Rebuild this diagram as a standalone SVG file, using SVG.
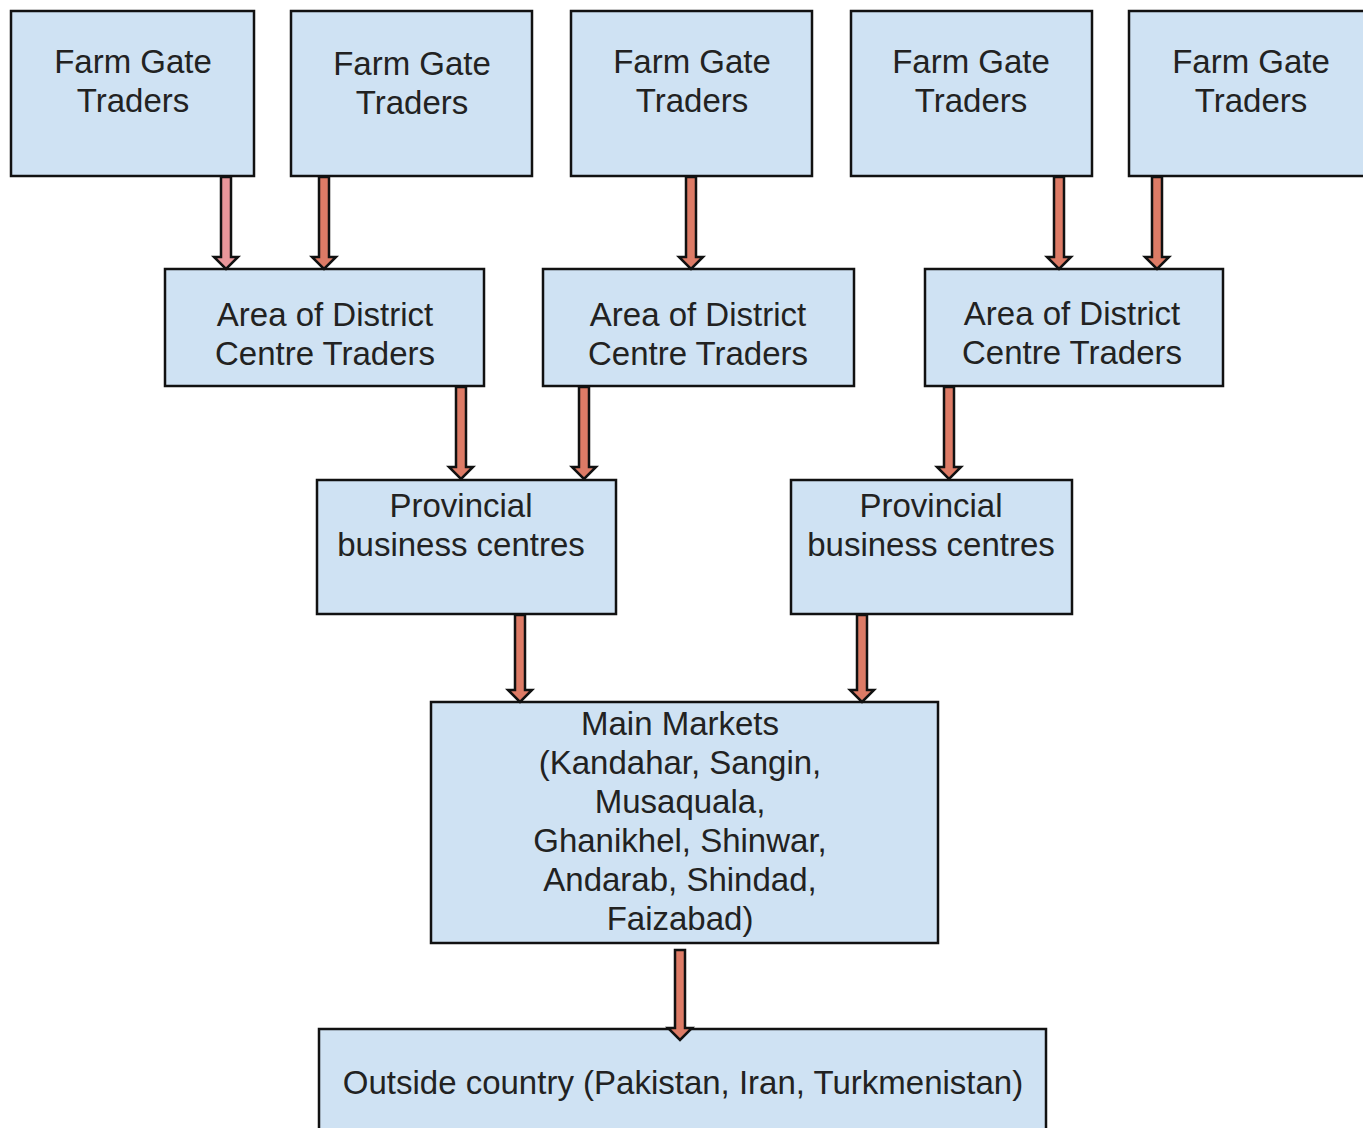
<svg xmlns="http://www.w3.org/2000/svg" width="1363" height="1128" viewBox="0 0 1363 1128">
<style>
.box{fill:#cfe2f3;stroke:#111;stroke-width:2.5}
.t{font-family:"Liberation Sans",Arial,sans-serif;font-size:33px;fill:#222;text-anchor:middle}
.arr{fill:#dd7b66;stroke:#111;stroke-width:2.5;stroke-linejoin:miter}
.arr1{fill:#e8969a}
</style>
<rect width="1363" height="1128" fill="#fff"/>
<g id="fg1"><rect class="box" x="11" y="11" width="243" height="165"/><text class="t" x="133" y="73">Farm Gate</text><text class="t" x="133" y="112">Traders</text></g>
<g id="fg2"><rect class="box" x="291" y="11" width="241" height="165"/><text class="t" x="412" y="75">Farm Gate</text><text class="t" x="412" y="114">Traders</text></g>
<g id="fg3"><rect class="box" x="571" y="11" width="241" height="165"/><text class="t" x="692" y="73">Farm Gate</text><text class="t" x="692" y="112">Traders</text></g>
<g id="fg4"><rect class="box" x="851" y="11" width="241" height="165"/><text class="t" x="971" y="73">Farm Gate</text><text class="t" x="971" y="112">Traders</text></g>
<g id="fg5"><rect class="box" x="1129" y="11" width="250" height="165"/><text class="t" x="1251" y="73">Farm Gate</text><text class="t" x="1251" y="112">Traders</text></g>
<g id="ad1"><rect class="box" x="165" y="269" width="319" height="117"/><text class="t" x="325" y="326">Area of District</text><text class="t" x="325" y="365">Centre Traders</text></g>
<g id="ad2"><rect class="box" x="543" y="269" width="311" height="117"/><text class="t" x="698" y="326">Area of District</text><text class="t" x="698" y="365">Centre Traders</text></g>
<g id="ad3"><rect class="box" x="925" y="269" width="298" height="117"/><text class="t" x="1072" y="325">Area of District</text><text class="t" x="1072" y="364">Centre Traders</text></g>
<g id="pb1"><rect class="box" x="317" y="480" width="299" height="134"/><text class="t" x="461" y="517">Provincial</text><text class="t" x="461" y="556">business centres</text></g>
<g id="pb2"><rect class="box" x="791" y="480" width="281" height="134"/><text class="t" x="931" y="517">Provincial</text><text class="t" x="931" y="556">business centres</text></g>
<g id="main"><rect class="box" x="431" y="702" width="507" height="241"/>
<text class="t" x="680" y="735">Main Markets</text>
<text class="t" x="680" y="774">(Kandahar, Sangin,</text>
<text class="t" x="680" y="813">Musaquala,</text>
<text class="t" x="680" y="852">Ghanikhel, Shinwar,</text>
<text class="t" x="680" y="891">Andarab, Shindad,</text>
<text class="t" x="680" y="930">Faizabad)</text></g>
<g id="outside"><rect class="box" x="319" y="1029" width="727" height="110"/><text class="t" x="683" y="1094">Outside country (Pakistan, Iran, Turkmenistan)</text></g>
<g id="connectors">
<path class="arr arr1" d="M221,177 L231,177 L231,257 L238,257 L226,269 L214,257 L221,257 Z"/>
<path class="arr" d="M319,177 L329,177 L329,257 L336,257 L324,269 L312,257 L319,257 Z"/>
<path class="arr" d="M686,177 L696,177 L696,257 L703,257 L691,269 L679,257 L686,257 Z"/>
<path class="arr" d="M1054,177 L1064,177 L1064,257 L1071,257 L1059,269 L1047,257 L1054,257 Z"/>
<path class="arr" d="M1152,177 L1162,177 L1162,257 L1169,257 L1157,269 L1145,257 L1152,257 Z"/>
<path class="arr" d="M456,387 L466,387 L466,467 L473,467 L461,479 L449,467 L456,467 Z"/>
<path class="arr" d="M579,387 L589,387 L589,467 L596,467 L584,479 L572,467 L579,467 Z"/>
<path class="arr" d="M944,387 L954,387 L954,467 L961,467 L949,479 L937,467 L944,467 Z"/>
<path class="arr" d="M515,615 L525,615 L525,690 L532,690 L520,702 L508,690 L515,690 Z"/>
<path class="arr" d="M857,615 L867,615 L867,690 L874,690 L862,702 L850,690 L857,690 Z"/>
<path class="arr" d="M675,950 L685,950 L685,1028 L692,1028 L680,1040 L668,1028 L675,1028 Z"/>
</g>
</svg>
